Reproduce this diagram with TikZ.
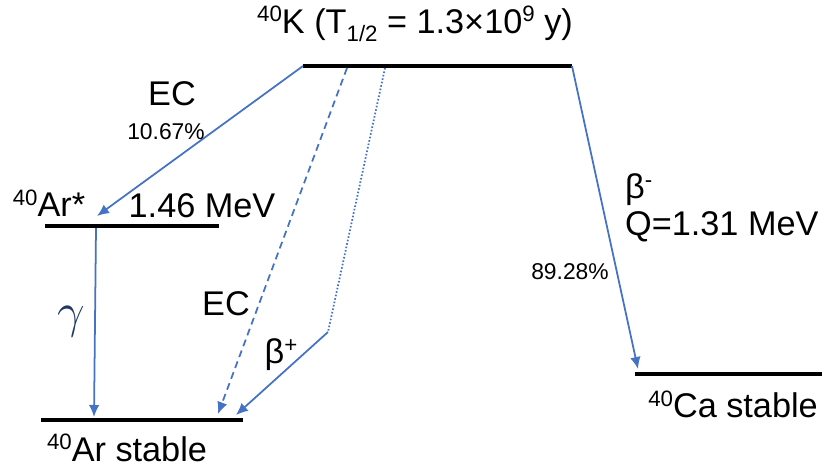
\documentclass[tikz,border=0pt]{standalone}
\usepackage{fontspec}
\setmainfont{Liberation Sans}
\usetikzlibrary{arrows.meta, positioning}
\definecolor{decayblue}{HTML}{4472C4}
\definecolor{gammanavy}{HTML}{203864}
\newcommand{\upidx}[1]{\raisebox{0.62ex}{\scalebox{0.65}{#1}}}
\newcommand{\lowidx}[1]{\raisebox{-0.45ex}{\scalebox{0.65}{#1}}}

\begin{document}
\begin{tikzpicture}[x=0.02cm, y=-0.02cm, font=\fontsize{19.5}{22}\selectfont, level/.style={line width=2.3pt}, decay/.style={decayblue, line width=1pt, -{Latex[length=2.4mm, width=2.1mm]}}, pct/.style={font=\fontsize{13}{15}\selectfont}]
\useasboundingbox (0,0) rectangle (825,468);
% energy levels
\coordinate (kL) at (303,66); \coordinate (kR) at (572,66);
\coordinate (arxL) at (45,226); \coordinate (arxR) at (219,226);
\coordinate (arL) at (41,420); \coordinate (arR) at (243,420);
\coordinate (caL) at (635,374); \coordinate (caR) at (822,374);
\draw[level] (kL) -- (kR);
\draw[level] (arxL) -- (arxR);
\draw[level] (arL) -- (arR);
\draw[level] (caL) -- (caR);
% points where the transitions start and end
\coordinate (ecTop) at (347,68); \coordinate (bpTop) at (385,68); \coordinate (bpKnee) at (328,332);
\coordinate (arxIn) at (97,216); \coordinate (gTop) at (96,228); \coordinate (gEnd) at (94,417);
\coordinate (ecEnd) at (218,414); \coordinate (bpEnd) at (236,415); \coordinate (caIn) at (638,369);
% transitions
\draw[decay] (kL) -- (arxIn);
\draw[decay] (gTop) -- (gEnd);
\draw[decay, dash pattern=on 4pt off 2.6pt] (ecTop) -- (ecEnd);
\draw[decayblue, line width=1pt, dash pattern=on 0.9pt off 1.1pt] (bpTop) -- (bpKnee);
\draw[decay] (bpKnee) -- (bpEnd);
\draw[decay] (kR) -- (caIn);
% labels
\node (title) at (415,24){\upidx{40}K (T\lowidx{1/2} = 1.3×10\upidx{9} y)};
\node (ecHi) at (172,94){EC};
\node[pct] (ecHiPct) at (166,132){10.67\%};
\node (arx) at (49,203){\upidx{40}Ar*};
\node (arxE) at (202,206){1.46 MeV};
\node[text=gammanavy] (gam) at (71,322){\scalebox{1.35}{$\gamma$}};
\node (ecLo) at (226,304){EC};
\node (bp) at (281,355){β\upidx{+}};
\node[anchor=west] (bm) at (619,190){β\upidx{-}};
\node[anchor=west] (qval) at (619,227){Q=1.31 MeV};
\node[pct] (bmPct) at (570,272){89.28\%};
\node (ca) at (733,404){\upidx{40}Ca stable};
\node[anchor=base, inner sep=1pt] (ar) at (127,461){\upidx{40}Ar stable};
\end{tikzpicture}
\end{document}
